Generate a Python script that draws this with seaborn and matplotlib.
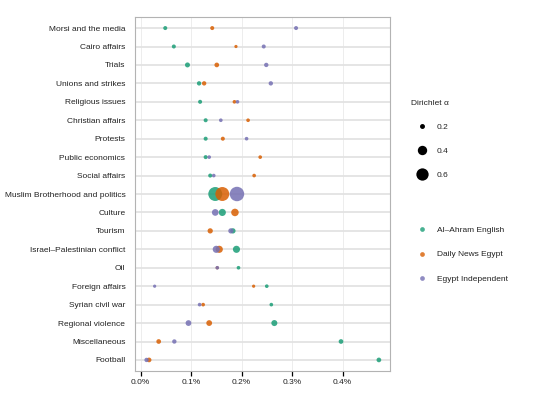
import numpy as np
import pandas as pd
import matplotlib
matplotlib.use("Agg")
import matplotlib.pyplot as plt
from matplotlib.lines import Line2D
from matplotlib.ticker import FuncFormatter
import seaborn as sns

# topics, top to bottom
topics = [
    "Morsi and the media", "Cairo affairs", "Trials", "Unions and strikes",
    "Religious issues", "Christian affairs", "Protests", "Public economics",
    "Social affairs", "Muslim Brotherhood and politics", "Culture", "Tourism",
    "Israel\u2013Palestinian conflict", "Oil", "Foreign affairs",
    "Syrian civil war", "Regional violence", "Miscellaneous", "Football",
]
sources = ["Al\u2013Ahram English", "Daily News Egypt", "Egypt Independent"]

# share of topic (in percent)
share_ahram = [0.049, 0.066, 0.093, 0.116, 0.118, 0.129, 0.129, 0.129, 0.138, 0.148,
               0.162, 0.183, 0.190, 0.194, 0.250, 0.259, 0.265, 0.397, 0.472]
share_dne = [0.142, 0.189, 0.151, 0.126, 0.186, 0.213, 0.163, 0.237, 0.225, 0.162,
             0.187, 0.138, 0.156, 0.152, 0.224, 0.124, 0.136, 0.036, 0.017]
share_ei = [0.308, 0.244, 0.249, 0.258, 0.192, 0.159, 0.210, 0.136, 0.145, 0.191,
            0.148, 0.179, 0.150, 0.152, 0.028, 0.117, 0.095, 0.067, 0.012]

# Dirichlet alpha per topic
alpha_ahram = [0.18, 0.18, 0.21, 0.19, 0.18, 0.18, 0.18, 0.18, 0.18, 0.80,
               0.30, 0.22, 0.30, 0.17, 0.17, 0.17, 0.25, 0.20, 0.20]
alpha_dne = [0.18, 0.16, 0.20, 0.19, 0.17, 0.17, 0.18, 0.17, 0.17, 0.80,
             0.32, 0.22, 0.30, 0.16, 0.16, 0.17, 0.24, 0.20, 0.20]
alpha_ei = [0.18, 0.18, 0.19, 0.19, 0.17, 0.17, 0.17, 0.17, 0.17, 0.88,
            0.28, 0.22, 0.30, 0.17, 0.16, 0.17, 0.24, 0.19, 0.19]

size_breaks = [0.2, 0.4, 0.6]
colors = ["#1B9E77", "#D95F02", "#7570B3"]

rows = []
for src, sh, al in zip(sources, [share_ahram, share_dne, share_ei],
                       [alpha_ahram, alpha_dne, alpha_ei]):
    for t, s, a in zip(topics, sh, al):
        rows.append({"topic": t, "source": src, "share": s, "alpha": a})
df = pd.DataFrame(rows)

sns.set_theme(style="white")
plt.rcParams["font.family"] = ["Liberation Sans", "DejaVu Sans"]

fig = plt.figure(figsize=(5.4, 3.93), dpi=100)
ax = fig.add_axes([135 / 540, 1 - 371 / 393, 255 / 540, 354 / 393])


def size_of(a):
    # marker area in pt^2, linear in alpha
    return 11.4 + (a - 0.2) * 149.0


sns.scatterplot(data=df, x="share", y="topic", hue="source", size="alpha",
                sizes=(size_of(0.15), size_of(0.85)), size_norm=(0.15, 0.85),
                palette=colors, hue_order=sources, alpha=0.85, linewidth=0,
                legend=False, ax=ax, zorder=3)

ax.set_ylim(len(topics) - 0.4, -0.6)
ax.set_xlim(-0.0109, 0.494)
ax.set_xticks([0.0, 0.1, 0.2, 0.3, 0.4])
ax.xaxis.set_major_formatter(FuncFormatter(lambda v, p: f"{v:.1f}%"))
ax.set_xlabel("")
ax.set_ylabel("")

ax.set_axisbelow(True)
ax.yaxis.grid(True, color="#E3E3E3", linewidth=1.3)
ax.xaxis.grid(True, color="#EAEAEA", linewidth=0.6)
for sp in ax.spines.values():
    sp.set_color("#B3B3B3")
    sp.set_linewidth(0.8)

ax.tick_params(axis="x", direction="out", length=3.5, width=0.9, color="black",
               labelsize=6, labelcolor="#222222", pad=2, bottom=True)
ax.tick_params(axis="y", length=0, labelsize=6, labelcolor="#222222", pad=7)

# size legend
size_handles = [Line2D([], [], marker="o", linestyle="", color="black",
                       markersize=np.sqrt(size_of(b)) * 1.05, markeredgewidth=0)
                for b in size_breaks]
leg1 = fig.legend(size_handles, [f"{b:.1f}" for b in size_breaks],
                  title="Dirichlet \u03b1", loc="upper left",
                  bbox_to_anchor=(411 / 540, 1 - 100 / 393), frameon=False,
                  fontsize=6, title_fontsize=6, borderpad=0, borderaxespad=0,
                  handlelength=2.6, handletextpad=0.5, labelspacing=1.94,
                  alignment="left")
leg1.get_title().set_color("#222222")

# colour legend
col_handles = [Line2D([], [], marker="o", linestyle="", color=c, alpha=0.8,
                      markersize=3.4, markeredgewidth=0) for c in colors]
leg2 = fig.legend(col_handles, sources, loc="upper left",
                  bbox_to_anchor=(411 / 540, 1 - 226 / 393), frameon=False,
                  fontsize=6, borderpad=0, borderaxespad=0, handlelength=2.6,
                  handletextpad=0.5, labelspacing=2.02)
for leg in (leg1, leg2):
    for txt in leg.get_texts():
        txt.set_color("#222222")

fig.savefig("out.png", dpi=100)
